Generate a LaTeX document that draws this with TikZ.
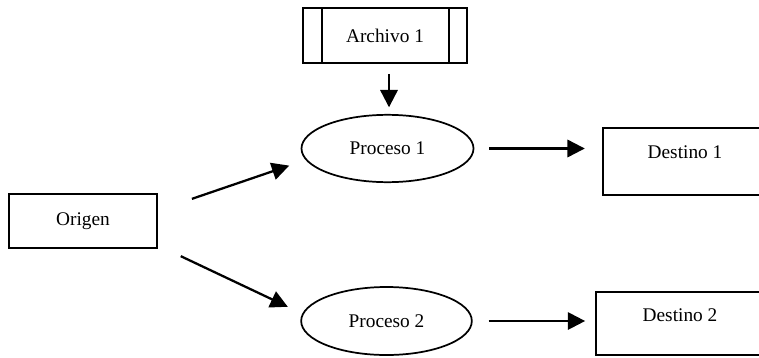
\documentclass[tikz,border=0pt]{standalone}
\usepackage{fontspec}
\setmainfont{Liberation Serif}
\usetikzlibrary{
        arrows.meta,
        shapes,
        positioning
    }

\begin{document}
\begin{tikzpicture}
[x=0.75pt, y=-0.75pt,
baseshape/.style={text centered, font=\fontsize{14.5}{17}\selectfont, draw=black, line width=1.3pt, inner sep=0pt},
entity/.style={baseshape, rectangle},
process/.style={baseshape, ellipse, minimum width=129pt, minimum height=50.5pt},
store/.style={baseshape, rectangle, minimum width=123pt, minimum height=41.25pt},
arrow/.style={line width=1.7pt, -{Triangle[length=13pt, width=13pt]}},
]
\useasboundingbox (0,0) rectangle (759,357);
\clip (0,0) rectangle (759,357);

\node (archivo) [store] at (385,35.5) {Archivo 1};
\node (proc1) [process] at (387.5,148.5) {Proceso 1};
\node (proc2) [process, minimum width=128pt, minimum height=51pt] at (386.5,321) {Proceso 2};
\node (origen) [entity, minimum width=111pt, minimum height=40.5pt] at (83,221) {Origen};
\node (dest1) [entity, minimum width=123pt, text height=23pt, text depth=27.25pt] at (685,161.5) {Destino 1};
\node (dest2) [entity, minimum width=126pt, text height=22.25pt, text depth=25pt] at (680,323.5) {Destino 2};

\draw [line width=1.3pt] ([xshift=15pt]archivo.north west) -- ([xshift=15pt]archivo.south west);
\draw [line width=1.3pt] ([xshift=-14pt]archivo.north east) -- ([xshift=-14pt]archivo.south east);

\draw [arrow, shorten <=7.5pt, shorten >=5pt] ([xshift=3pt]archivo.south) -- ([xshift=3pt]archivo.south |- proc1.north);

\draw [arrow, shorten <=27pt, shorten >=13pt] (origen.8) -- (proc1.188);
\draw [arrow, shorten <=19pt, shorten >=12pt] (origen.-18) -- (proc2.175);

\draw [arrow, shorten <=11pt, shorten >=13pt] (proc1.east) -- (proc1.east -| dest1.west);
\draw [arrow, shorten <=12pt, shorten >=7.5pt] (proc2.east) -- (proc2.east -| dest2.west);
\end{tikzpicture}
\end{document}
